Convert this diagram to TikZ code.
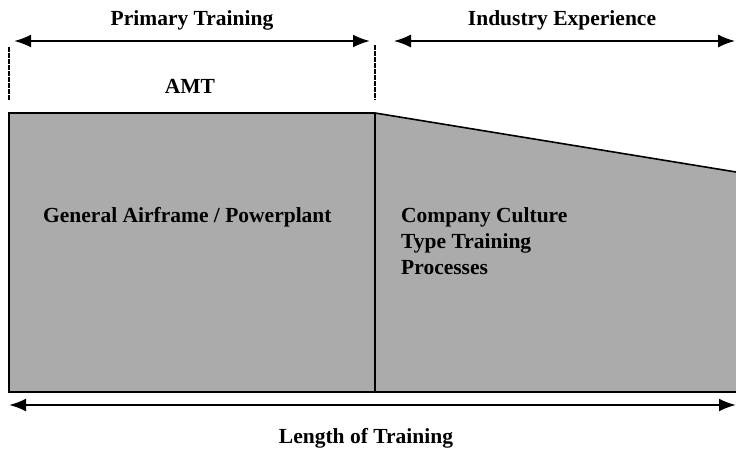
\documentclass[tikz,border=0pt]{standalone}
\usepackage{fontspec}
\setmainfont{Liberation Serif}
\usetikzlibrary{arrows.meta}
\begin{document}
\begin{tikzpicture}[x=1pt,y=-1pt,
  lbl/.style={font=\bfseries\fontsize{21.5}{26}\selectfont,inner sep=0pt},
  dimarrow/.style={{Latex[length=17pt,width=13pt]}-{Latex[length=17pt,width=13pt]},line width=2.2pt},
  marker/.style={line width=1.8pt,dash pattern=on 5pt off 1pt}]
\useasboundingbox (0,0) rectangle (736,452);
% text labels
\node[lbl] (prim) at (192,20) {Primary Training};
\node[lbl] (ind) at (562,20) {Industry Experience};
\node[lbl] (amt) at (190,86) {AMT};
\node[lbl] (len) at (366,438) {Length of Training};
% coordinates
\coordinate (pa) at (14,41);
\coordinate (pb) at (370,41);
\coordinate (ia) at (394,41);
\coordinate (ib) at (735,41);
\coordinate (la) at (9,405);
\coordinate (lb) at (736,405);
\coordinate (d1a) at (9,47);
\coordinate (d1b) at (9,100);
\coordinate (d2a) at (375,45);
\coordinate (d2b) at (375,100);
% dimension arrows
\draw[dimarrow] (pa) -- (pb);
\draw[dimarrow,line width=1.4pt] (ia) -- (ib);
\draw[dimarrow] (la) -- (lb);
% side markers
\draw[marker] (d1a) -- (d1b);
\draw[marker] (d2a) -- (d2b);
% shaded regions
\coordinate (r1) at (9,113);
\coordinate (r2) at (375,113);
\coordinate (r3) at (375,392);
\coordinate (r4) at (9,392);
\coordinate (t1) at (736,172);
\coordinate (t2) at (736,392);
\fill[black!33] (r1) -- (r2) -- (t1) -- (t2) -- (r4) -- cycle;
\draw[line width=1.6pt] (t2) -- (r4) -- (r1) -- (r2) -- (t1);
\draw[line width=1.2pt] (r2) -- (r3);
% region texts
\node[lbl,anchor=west] (gen) at (43,217) {General Airframe / Powerplant};
\node[lbl,anchor=north west,align=left] (comp) at (401,207) {Company Culture\\Type Training\\Processes};
\end{tikzpicture}
\end{document}
